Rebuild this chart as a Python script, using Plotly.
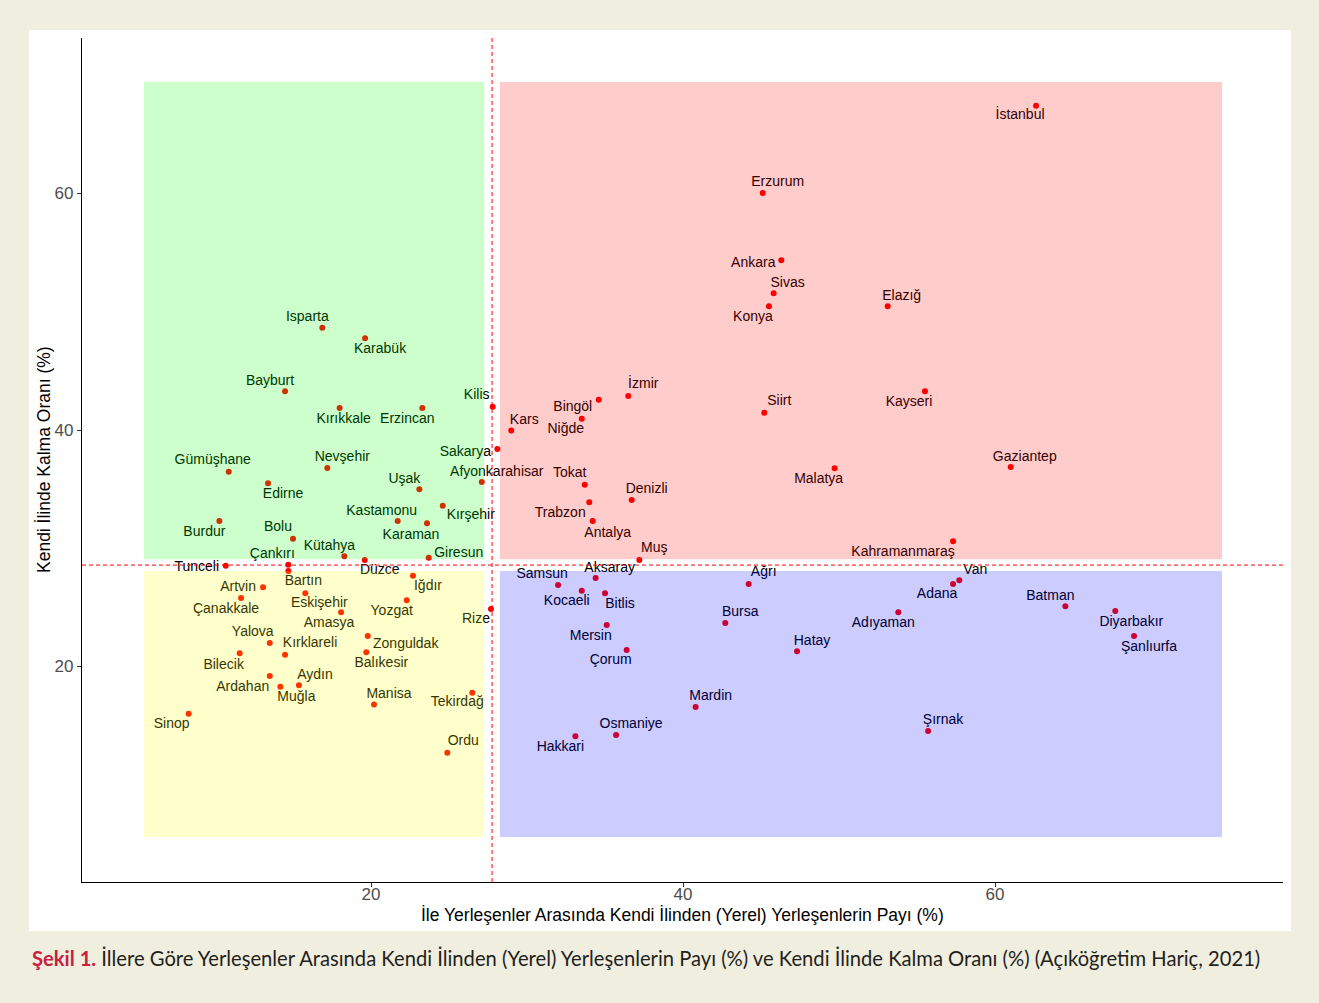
import plotly.graph_objects as go

# ---------------- data ----------------
provinces = [
    "İstanbul", "Erzurum", "Ankara", "Sivas", "Konya", "Elazığ", "Kayseri", "Siirt",
    "İzmir", "Bingöl", "Niğde", "Kars", "Kilis", "Sakarya", "Afyonkarahisar", "Tokat",
    "Denizli", "Trabzon", "Antalya", "Muş", "Malatya", "Gaziantep", "Kahramanmaraş",
    "Van", "Adana", "Batman", "Adıyaman", "Diyarbakır", "Şanlıurfa", "Hatay", "Şırnak",
    "Ağrı", "Bursa", "Samsun", "Aksaray", "Kocaeli", "Bitlis", "Mersin", "Çorum",
    "Mardin", "Osmaniye", "Hakkari",
    "Isparta", "Karabük", "Bayburt", "Kırıkkale", "Erzincan", "Gümüşhane", "Nevşehir",
    "Edirne", "Uşak", "Kastamonu", "Karaman", "Kırşehir", "Burdur", "Bolu", "Kütahya",
    "Çankırı", "Giresun", "Düzce", "Tunceli",
    "Bartın", "Iğdır", "Artvin", "Çanakkale", "Eskişehir", "Yozgat", "Amasya", "Rize",
    "Zonguldak", "Balıkesir", "Yalova", "Kırklareli", "Bilecik", "Ardahan", "Muğla",
    "Aydın", "Manisa", "Tekirdağ", "Sinop", "Ordu",
]
local_share = [
    62.63, 45.11, 46.30, 45.81, 45.51, 53.12, 55.51, 45.21,
    36.49, 34.60, 33.51, 28.99, 27.80, 28.10, 27.10, 33.70,
    36.71, 33.99, 34.21, 37.20, 49.72, 61.01, 57.31,
    57.71, 57.31, 64.51, 53.80, 67.71, 68.91, 47.31, 55.71,
    44.21, 42.71, 31.99, 34.40, 33.51, 35.00, 35.11, 36.39,
    40.81, 35.71, 33.10,
    16.88, 19.62, 14.49, 17.99, 23.29, 10.88, 17.20,
    13.40, 23.10, 21.71, 23.59, 24.60, 10.28, 15.00, 18.29,
    14.70, 23.70, 19.60, 10.69,
    14.70, 22.69, 13.08, 11.67, 15.79, 22.29, 18.08, 27.69,
    19.79, 19.70, 13.51, 14.49, 11.58, 13.51, 14.19,
    15.38, 20.19, 26.49, 8.31, 24.89,
]
stay_rate = [
    67.43, 60.04, 54.35, 51.56, 50.46, 50.46, 43.27, 41.46,
    42.88, 42.56, 40.96, 39.97, 41.97, 38.39, 35.60, 35.37,
    34.08, 33.89, 32.30, 29.01, 36.76, 36.87, 30.59,
    27.29, 26.98, 25.09, 24.58, 24.69, 22.58, 21.29, 14.55,
    26.98, 23.68, 26.89, 27.48, 26.41, 26.19, 23.51, 21.40,
    16.57, 14.21, 14.10,
    48.65, 47.75, 43.27, 41.86, 41.86, 36.47, 36.79,
    35.49, 34.99, 32.30, 32.11, 33.60, 32.30, 30.81, 29.32,
    28.60, 29.20, 29.01, 28.52,
    28.08, 27.68, 26.70, 25.79, 26.19, 25.60, 24.58, 24.86,
    22.58, 21.20, 21.99, 21.00, 21.12, 19.20, 18.29,
    18.41, 16.80, 17.78, 16.01, 12.71,
]
mean_x = 27.76
mean_y = 28.58
x_ticks = [20, 40, 60]
y_ticks = [20, 40, 60]

x_title = "İle Yerleşenler Arasında Kendi İlinden (Yerel) Yerleşenlerin Payı (%)"
y_title = "Kendi İlinde Kalma Oranı (%)"
caption_head = "Şekil 1."
caption_body = ("İllere Göre Yerleşenler Arasında Kendi İlinden (Yerel) Yerleşenlerin Payı (%) "
                "ve Kendi İlinde Kalma Oranı (%) (Açıköğretim Hariç, 2021)")

# ---------------- layout constants ----------------
W, H = 1319, 1003
ML, MR, MT, MB = 82, 36, 38, 121
PW, PH = W - ML - MR, H - MT - MB
x_range = [1.474, 78.46]
y_range = [1.78, 73.15]
px_x = PW / (x_range[1] - x_range[0])
px_y = PH / (y_range[1] - y_range[0])

# label offsets (screen pixels: dx right, dy down) from each point
label_offsets = {
    "İstanbul": (-16, 10), "Erzurum": (15, -11), "Ankara": (-28, 3), "Sivas": (14, -10),
    "Konya": (-16, 11), "Elazığ": (14, -10), "Kayseri": (-16, 11), "Siirt": (15, -11),
    "İzmir": (15, -11), "Bingöl": (-26, 8), "Niğde": (-16, 11), "Kars": (13, -10),
    "Kilis": (-16, -11), "Sakarya": (-32, 3), "Afyonkarahisar": (15, -10), "Tokat": (-15, -11),
    "Denizli": (15, -11), "Trabzon": (-29, 11), "Antalya": (15, 12), "Muş": (15, -11),
    "Malatya": (-16, 11), "Gaziantep": (14, -10), "Kahramanmaraş": (-50, 11),
    "Van": (16, -10), "Adana": (-16, 11), "Batman": (-15, -10), "Adıyaman": (-15, 11),
    "Diyarbakır": (16, 11), "Şanlıurfa": (15, 11), "Hatay": (15, -10), "Şırnak": (15, -10),
    "Ağrı": (15, -11), "Bursa": (15, -11), "Samsun": (-16, -11), "Aksaray": (14, -10),
    "Kocaeli": (-15, 11), "Bitlis": (15, 11), "Mersin": (-16, 11), "Çorum": (-16, 11),
    "Mardin": (15, -11), "Osmaniye": (15, -11), "Hakkari": (-15, 11),
    "Isparta": (-15, -10), "Karabük": (15, 11), "Bayburt": (-15, -10), "Kırıkkale": (4, 11),
    "Erzincan": (-15, 11), "Gümüşhane": (-16, -11), "Nevşehir": (15, -10), "Edirne": (15, 11),
    "Uşak": (-15, -10), "Kastamonu": (-16, -10), "Karaman": (-16, 12), "Kırşehir": (28, 10),
    "Burdur": (-15, 11), "Bolu": (-15, -11), "Kütahya": (-15, -10), "Çankırı": (-16, -10),
    "Giresun": (30, -4), "Düzce": (15, 11), "Tunceli": (-29, 2),
    "Bartın": (15, 11), "Iğdır": (15, 11), "Artvin": (-25, 0), "Çanakkale": (-15, 11),
    "Eskişehir": (14, 10), "Yozgat": (-15, 11), "Amasya": (-12, 11), "Rize": (-15, 10),
    "Zonguldak": (38, 8), "Balıkesir": (15, 11), "Yalova": (-17, -11), "Kırklareli": (25, -11),
    "Bilecik": (-16, 12), "Ardahan": (-27, 11), "Muğla": (16, 11), "Aydın": (16, -10),
    "Manisa": (15, -10), "Tekirdağ": (-15, 10), "Sinop": (-17, 11), "Ordu": (16, -11),
}

label_x = [x + label_offsets[n][0] / px_x for n, x in zip(provinces, local_share)]
label_y = [y - label_offsets[n][1] / px_y for n, y in zip(provinces, stay_rate)]

fig = go.Figure()
fig.add_trace(go.Scatter(
    x=local_share, y=stay_rate, mode="markers",
    marker=dict(color="#FF0000", size=6, line=dict(width=0)),
    hovertext=provinces, showlegend=False,
))
fig.add_trace(go.Scatter(
    x=label_x, y=label_y, mode="text", text=provinces,
    textposition="middle center",
    textfont=dict(family="Liberation Sans, Arial, sans-serif", size=14, color="black"),
    showlegend=False, hoverinfo="skip",
))

# quadrant rectangles (drawn above the data with transparency, as in the original)
gap = 0.5
x_lo, x_hi = 5.45, 74.55
y_lo, y_hi = 5.58, 69.43
quadrants = [
    (x_lo, mean_x - gap, mean_y + gap, y_hi, "rgba(0,255,0,0.2)"),
    (x_lo, mean_x - gap, y_lo, mean_y - gap, "rgba(255,255,0,0.2)"),
    (mean_x + gap, x_hi, mean_y + gap, y_hi, "rgba(255,0,0,0.2)"),
    (mean_x + gap, x_hi, y_lo, mean_y - gap, "rgba(0,0,255,0.2)"),
]
for x0, x1, y0, y1, col in quadrants:
    fig.add_shape(type="rect", xref="x", yref="y", x0=x0, x1=x1, y0=y0, y1=y1,
                  fillcolor=col, line=dict(width=0), layer="above")

# white panel behind chart
fig.add_shape(type="rect", xref="paper", yref="paper",
              x0=(29 - ML) / PW, x1=(1291 - ML) / PW,
              y0=(PH + MT - 931) / PH, y1=(PH + MT - 30) / PH,
              fillcolor="white", line=dict(width=0), layer="below")

# mean lines
fig.add_shape(type="line", xref="x", yref="paper", x0=mean_x, x1=mean_x, y0=0, y1=1,
              line=dict(color="red", width=1, dash="4px,3px"), layer="above")
fig.add_shape(type="line", xref="paper", yref="y", x0=0, x1=1, y0=mean_y, y1=mean_y,
              line=dict(color="red", width=1, dash="4px,3px"), layer="above")

axis_common = dict(showgrid=False, zeroline=False, showline=True, linecolor="black",
                   linewidth=1.3, ticks="outside", ticklen=4, tickcolor="#333333",
                   tickwidth=1, tickfont=dict(family="Liberation Sans, Arial, sans-serif",
                                              size=17, color="#4D4D4D"))
fig.update_xaxes(range=x_range, tickvals=x_ticks, ticklabelstandoff=-8, **axis_common)
fig.update_yaxes(range=y_range, tickvals=y_ticks, **axis_common)

# axis titles
fig.add_annotation(text=x_title, xref="paper", yref="paper", x=0.5,
                   y=(PH + MT - 915) / PH, showarrow=False, xanchor="center", yanchor="middle",
                   font=dict(family="Liberation Sans, Arial, sans-serif", size=17.5, color="black"))
fig.add_annotation(text=y_title, xref="paper", yref="paper", x=(44 - ML) / PW,
                   y=0.5, showarrow=False, xanchor="center", yanchor="middle", textangle=-90,
                   font=dict(family="Liberation Sans, Arial, sans-serif", size=17.5, color="black"))

# caption
fig.add_annotation(
    text=f"<b><span style='color:#C8203F'>{caption_head}</span></b> {caption_body}",
    xref="paper", yref="paper", x=(30 - ML) / PW, y=(PH + MT - 958) / PH,
    showarrow=False, xanchor="left", yanchor="middle",
    font=dict(family="Lato, sans-serif", size=20.2, color="#231F20"))

fig.update_layout(
    width=W, height=H,
    margin=dict(l=ML, r=MR, t=MT, b=MB, autoexpand=False),
    paper_bgcolor="#F0EEDF", plot_bgcolor="rgba(0,0,0,0)",
    showlegend=False,
)

fig.write_html("out.html", config={"displayModeBar": False},
               post_script="document.body.style.margin='0';")
